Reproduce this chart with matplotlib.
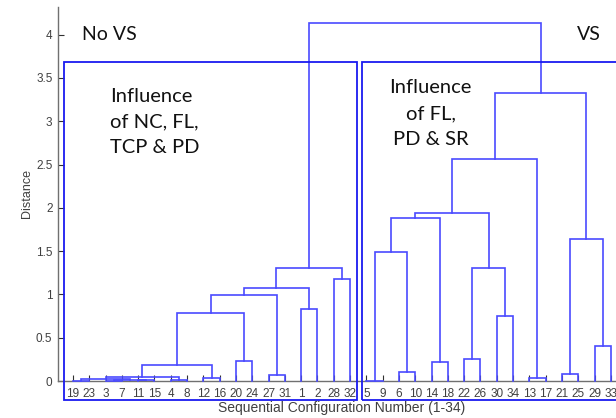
import matplotlib
matplotlib.use("Agg")
import matplotlib.pyplot as plt
import matplotlib.patches as patches

# leaf order along the x axis (configuration numbers)
leaf_order = [19, 23, 3, 7, 11, 15, 4, 8, 12, 16, 20, 24, 27, 31, 1, 2, 28, 32,
              5, 9, 6, 10, 14, 18, 22, 26, 30, 34, 13, 17, 21, 25, 29, 33]

# merges: (left child, right child, distance)
# ints are leaf labels, strings 'cN' point to the N-th merge in this list
merges = [
    (19, 23, 0.005),      # c0
    (3, 7, 0.005),        # c1
    (11, 15, 0.01),       # c2
    ('c1', 'c2', 0.015),  # c3
    ('c0', 'c3', 0.025),  # c4
    (4, 8, 0.015),        # c5
    ('c4', 'c5', 0.05),   # c6
    (12, 16, 0.03),       # c7
    ('c6', 'c7', 0.185),  # c8
    (20, 24, 0.23),       # c9
    ('c8', 'c9', 0.78),   # c10
    (27, 31, 0.065),      # c11
    ('c10', 'c11', 0.99), # c12
    (1, 2, 0.83),         # c13
    ('c12', 'c13', 1.07), # c14
    (28, 32, 1.175),      # c15
    ('c14', 'c15', 1.30), # c16
    (5, 9, 0.005),        # c17
    (6, 10, 0.10),        # c18
    ('c17', 'c18', 1.495),# c19
    (14, 18, 0.215),      # c20
    ('c19', 'c20', 1.88), # c21
    (22, 26, 0.25),       # c22
    (30, 34, 0.75),       # c23
    ('c22', 'c23', 1.30), # c24
    ('c21', 'c24', 1.94), # c25
    (13, 17, 0.03),       # c26
    ('c25', 'c26', 2.57), # c27
    (21, 25, 0.08),       # c28
    (29, 33, 0.40),       # c29
    ('c28', 'c29', 1.64), # c30
    ('c27', 'c30', 3.326),# c31
    ('c16', 'c31', 4.14), # c32
]

yticks = [0, 0.5, 1, 1.5, 2, 2.5, 3, 3.5, 4]
ytick_labels = ['0', '0.5', '1', '1.5', '2', '2.5', '3', '3.5', '4']

n_left = 18  # leaves in the "No VS" group

line_col = '#4a4aff'
box_col = '#1a1af0'
axis_col = '#707070'
text_col = '#404040'

fig = plt.figure(figsize=(6.16, 4.18), dpi=100)
ax = fig.add_axes([58 / 616, 37 / 418, (625 - 58) / 616, (381 - 7) / 418])

# positions of leaves and clusters
pos = {lab: i for i, lab in enumerate(leaf_order)}
height = {lab: 0.0 for lab in leaf_order}
for k, (a, b, h) in enumerate(merges):
    xa, xb = pos[a], pos[b]
    ha, hb = height[a], height[b]
    ax.plot([xa, xa, xb, xb], [ha, h, h, hb], color=line_col, lw=1.2,
            solid_joinstyle='miter', clip_on=False, zorder=3)
    name = 'c%d' % k
    pos[name] = (xa + xb) / 2
    height[name] = h

n = len(leaf_order)
ax.set_xlim(-0.92, n - 0.13)
ax.set_ylim(0, 4.32)

ax.set_xticks(range(n))
ax.set_xticklabels([str(v) for v in leaf_order])
ax.set_yticks(yticks)
ax.set_yticklabels(ytick_labels)

for s in ['top', 'right']:
    ax.spines[s].set_visible(False)
for s in ['left', 'bottom']:
    ax.spines[s].set_color(axis_col)
    ax.spines[s].set_linewidth(1.0)

ax.tick_params(direction='in', length=4, width=0.8, color='#303030',
               labelcolor=text_col, labelsize=8.5)
ax.tick_params(axis='x', pad=5)
ax.tick_params(axis='y', pad=4)
for lab in ax.get_xticklabels() + ax.get_yticklabels():
    lab.set_family('Liberation Sans')

ax.set_xlabel('Sequential Configuration Number (1-34)', fontsize=10,
              color=text_col, family='Liberation Sans', labelpad=1)
ax.set_ylabel('Distance', fontsize=9, color=text_col,
              family='Liberation Sans', labelpad=2)

# group boxes
box_bottom, box_top = -0.22, 3.69
left_box = patches.Rectangle((-0.53, box_bottom), n_left - 1 + 0.44 + 0.53,
                             box_top - box_bottom, fill=False,
                             edgecolor=box_col, lw=1.3, clip_on=False, zorder=4)
right_box = patches.Rectangle((n_left - 0.25, box_bottom), n - n_left + 2,
                              box_top - box_bottom, fill=False,
                              edgecolor=box_col, lw=1.3, clip_on=False, zorder=4)
ax.add_patch(left_box)
ax.add_patch(right_box)

note_font = 'Lato'
ax.text(0.55, 4.0, 'No VS', fontsize=14, family=note_font, color='#111111',
        ha='left', va='center')
ax.text(30.9, 4.0, 'VS', fontsize=14, family=note_font, color='#111111',
        ha='left', va='center')
ax.text(2.3, 2.99, 'Influence\nof NC, FL,\nTCP & PD', fontsize=14.5,
        family=note_font, color='#111111', ha='left', va='center',
        multialignment='left', linespacing=1.62)
ax.text(21.95, 3.09, 'Influence\nof FL,\nPD & SR', fontsize=14.5,
        family=note_font, color='#111111', ha='center', va='center',
        multialignment='center', linespacing=1.62)

plt.savefig('out.png', dpi=100)
